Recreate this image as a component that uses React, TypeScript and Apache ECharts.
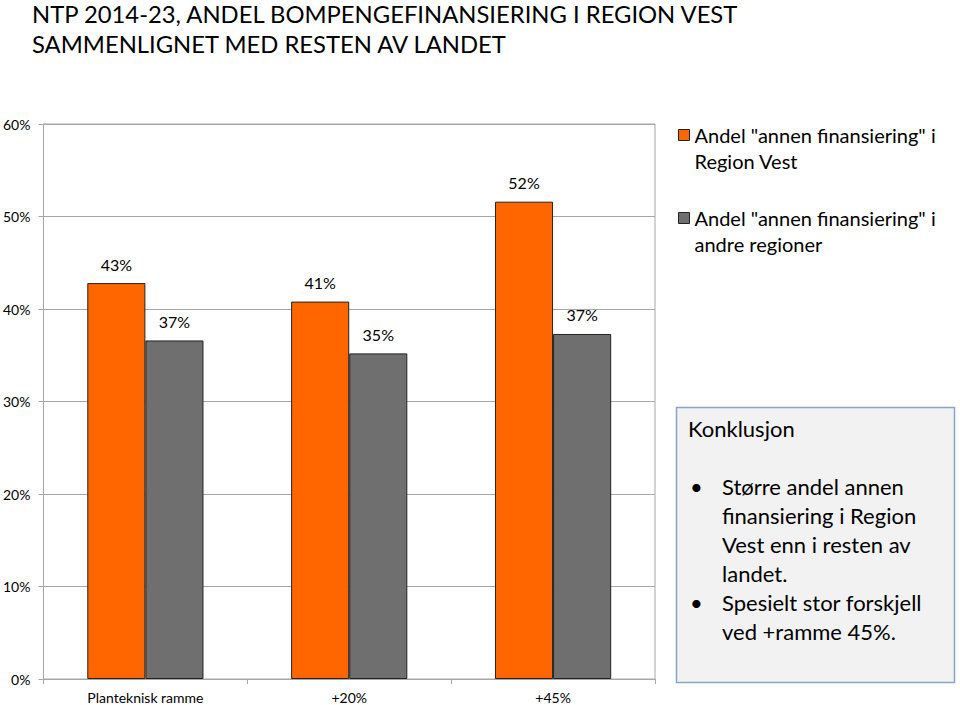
import React, { useEffect, useRef } from "react";
import * as echarts from "echarts";

const titleLines = [
  "NTP 2014-23, ANDEL BOMPENGEFINANSIERING I REGION VEST",
  "SAMMENLIGNET MED RESTEN AV LANDET",
];
const categories = ["Planteknisk ramme", "+20%", "+45%"];
const seriesNames = [
  'Andel "annen finansiering" i\nRegion Vest',
  'Andel "annen finansiering" i\nandre regioner',
];
const regionVest = [42.8, 40.8, 51.6];
const andreRegioner = [36.6, 35.2, 37.3];
const yTicks = { min: 0, max: 60, interval: 10 };
const boxTitle = "Konklusjon";
const bulletLines = [
  ["Større andel annen", "finansiering i Region", "Vest enn i resten av", "landet."],
  ["Spesielt stor forskjell", "ved +ramme 45%."],
];

const FONT = "Lato, 'Open Sans', sans-serif";

export default function App() {
  const ref = useRef<HTMLDivElement>(null);
  useEffect(() => {
    document.body.style.margin = "0";
    if (!ref.current) return;
    const chart = echarts.init(ref.current, undefined, { renderer: "svg" });

    const bulletEls: any[] = [];
    let y = 486;
    const lh = 29;
    bulletLines.forEach((lines) => {
      bulletEls.push({
        type: "text",
        x: 690,
        y,
        style: { text: "•", fontSize: 22, fontFamily: FONT, fill: "#000", verticalAlign: "middle" },
      });
      lines.forEach((l) => {
        bulletEls.push({
          type: "text",
          x: 722,
          y,
          style: { text: l, fontSize: 22, fontFamily: FONT, fill: "#000", verticalAlign: "middle" },
        });
        y += lh;
      });
    });

    const labelCfg = {
      show: true,
      position: "top",
      distance: 11,
      fontSize: 16,
      fontFamily: FONT,
      color: "#000",
      formatter: (p: any) => Math.round(p.value) + "%",
    };

    chart.setOption({
      animation: false,
      textStyle: { fontFamily: FONT },
      grid: {
        left: 41,
        right: 305,
        top: 124,
        bottom: 26,
        show: true,
        borderColor: "#a6a6a6",
        borderWidth: 1,
      },
      legend: {
        orient: "vertical",
        left: 673,
        top: 91,
        itemWidth: 11,
        itemHeight: 11,
        itemGap: 5,
        icon: "rect",
        formatter: (n: string) => "\n" + n,
        textStyle: {
          fontSize: 20,
          fontFamily: FONT,
          color: "#000",
          lineHeight: 26,
        },
        data: seriesNames.map((n) => ({ name: n, itemStyle: { borderColor: "#222", borderWidth: 1 } })),
      },
      xAxis: {
        type: "category",
        data: categories,
        axisLine: { lineStyle: { color: "#a6a6a6" } },
        axisTick: { show: true, length: 5, lineStyle: { color: "#a6a6a6" } },
        axisLabel: { fontSize: 14, color: "#000", fontFamily: FONT, margin: 11 },
      },
      yAxis: {
        type: "value",
        min: yTicks.min,
        max: yTicks.max,
        interval: yTicks.interval,
        axisLine: { show: true, lineStyle: { color: "#a6a6a6" } },
        axisTick: { show: true, length: 5, lineStyle: { color: "#a6a6a6" } },
        splitLine: { lineStyle: { color: "#a6a6a6" } },
        axisLabel: { fontSize: 14, color: "#000", fontFamily: FONT, margin: 13, formatter: "{value}%" },
      },
      series: [
        {
          name: seriesNames[0],
          type: "bar",
          data: regionVest,
          barGap: "0%",
          barCategoryGap: "43%",
          itemStyle: { color: "#ff6600", borderColor: "#222", borderWidth: 1 },
          label: labelCfg,
        },
        {
          name: seriesNames[1],
          type: "bar",
          data: andreRegioner,
          itemStyle: { color: "#6f6f6f", borderColor: "#222", borderWidth: 1 },
          label: labelCfg,
        },
      ],
      graphic: [
        ...titleLines.map((t, i) => ({
          type: "text",
          x: 32,
          y: 14 + i * 30,
          style: { text: t, fontSize: 23.8, fontFamily: FONT, fill: "#000", verticalAlign: "middle" },
        })),
        {
          type: "rect",
          shape: { x: 676.5, y: 407.5, width: 278, height: 275 },
          style: { fill: "#f2f2f2", stroke: "#8aa4c8", lineWidth: 1.5 },
        },
        {
          type: "text",
          x: 688,
          y: 428,
          style: { text: boxTitle, fontSize: 22, fontFamily: FONT, fill: "#000", verticalAlign: "middle" },
        },
        ...bulletEls,
      ],
    });
    return () => chart.dispose();
  }, []);
  return <div ref={ref} style={{ width: 960, height: 705 }} />;
}
